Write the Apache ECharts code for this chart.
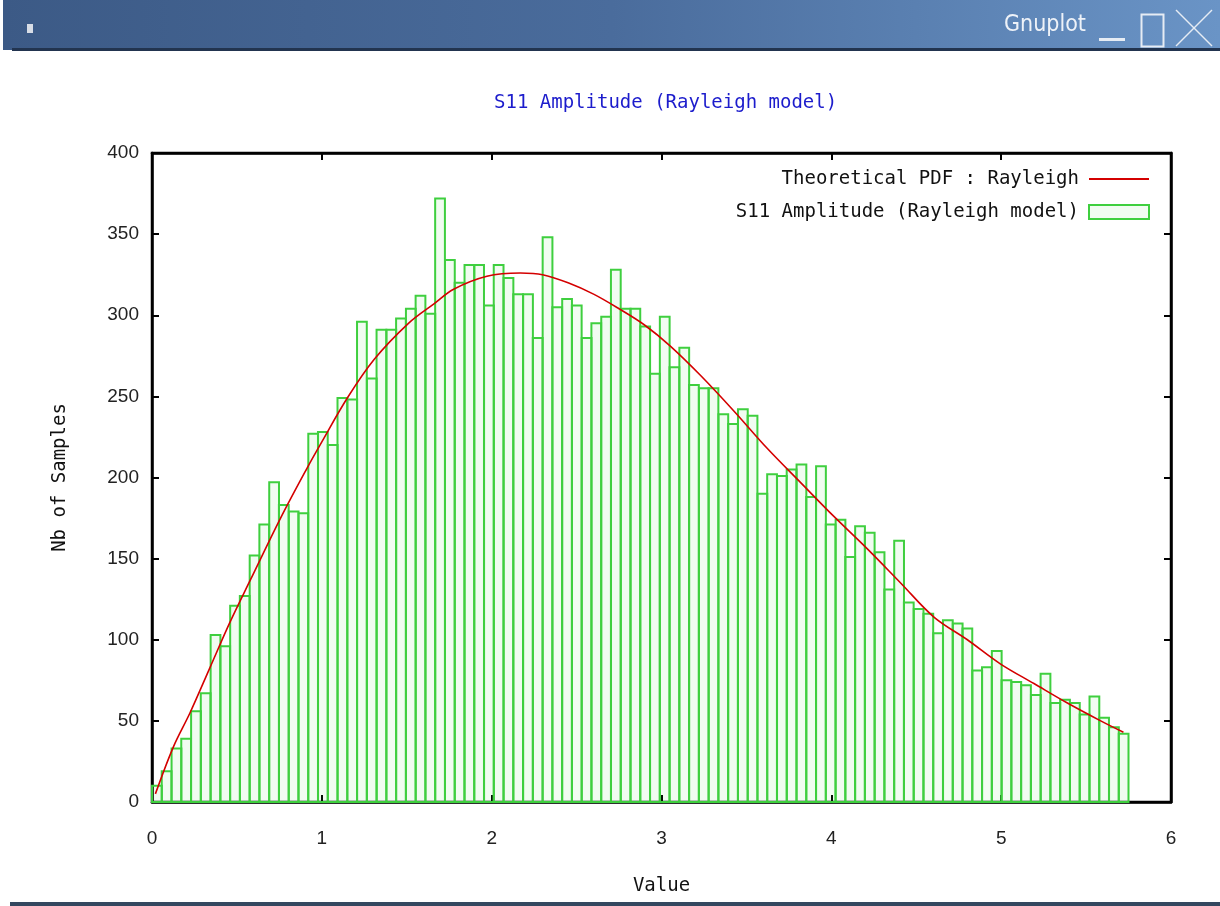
<!DOCTYPE html>
<html>
<head>
<meta charset="utf-8">
<script src="https://cdn.jsdelivr.net/npm/echarts@6/dist/echarts.min.js"></script>
<style>
  html, body { margin: 0; padding: 0; background: #ffffff; }
  #chart { width: 1220px; height: 906px; }
</style>
</head>
<body>
<div id="chart"></div>
<script>
// ---------------- data ----------------
const chartTitle = 'S11 Amplitude (Rayleigh model)';
const windowTitle = 'Gnuplot';
const xName = 'Value';
const yName = 'Nb of Samples';
const pdfName = 'Theoretical PDF : Rayleigh';
const histName = 'S11 Amplitude (Rayleigh model)';

const xTicks = [0, 1, 2, 3, 4, 5, 6];
const yTicks = [0, 50, 100, 150, 200, 250, 300, 350, 400];

const binWidth = 0.0575;
const binCenters = [
  0.029, 0.086, 0.144, 0.201, 0.259, 0.316, 0.374, 0.431, 0.489, 0.546,
  0.604, 0.661, 0.719, 0.776, 0.834, 0.891, 0.949, 1.006, 1.064, 1.121,
  1.179, 1.236, 1.294, 1.351, 1.409, 1.466, 1.524, 1.581, 1.639, 1.696,
  1.754, 1.811, 1.869, 1.926, 1.984, 2.041, 2.099, 2.156, 2.214, 2.271,
  2.329, 2.386, 2.444, 2.501, 2.559, 2.616, 2.674, 2.731, 2.789, 2.846,
  2.904, 2.961, 3.019, 3.076, 3.134, 3.191, 3.249, 3.306, 3.364, 3.421,
  3.479, 3.536, 3.594, 3.651, 3.709, 3.766, 3.824, 3.881, 3.939, 3.996,
  4.054, 4.111, 4.169, 4.226, 4.284, 4.341, 4.399, 4.456, 4.514, 4.571,
  4.629, 4.686, 4.744, 4.801, 4.859, 4.916, 4.974, 5.031, 5.089, 5.146,
  5.204, 5.261, 5.319, 5.376, 5.434, 5.491, 5.549, 5.606, 5.664, 5.721
];
const binCounts = [
  10, 19, 33, 39, 56, 67, 103, 96, 121, 127,
  152, 171, 197, 183, 179, 178, 227, 228, 220, 249,
  248, 296, 261, 291, 291, 298, 304, 312, 301, 372,
  334, 320, 331, 331, 306, 331, 323, 313, 313, 286,
  348, 305, 310, 306, 286, 295, 299, 328, 304, 304,
  293, 264, 299, 268, 280, 257, 255, 255, 239, 233,
  242, 238, 190, 202, 201, 205, 208, 188, 207, 171,
  174, 151, 170, 166, 154, 131, 161, 123, 119, 116,
  104, 112, 110, 107, 81, 83, 93, 75, 74, 72,
  66, 79, 61, 63, 61, 54, 65, 52, 46, 42
];

const pdfX = [0.02, 0.126, 0.224, 0.342, 0.46, 0.58, 0.757, 0.914, 1.0, 1.15,
  1.31, 1.51, 1.66, 1.776, 1.972, 2.169, 2.3, 2.45, 2.6, 2.75,
  2.9, 3.052, 3.229, 3.426, 3.622, 3.818, 4.015, 4.212, 4.408, 4.604,
  4.801, 4.997, 5.193, 5.39, 5.586, 5.72];
const pdfY = [5, 34, 55, 83, 111, 137, 175, 206, 222, 249,
  273, 295, 307, 316, 324, 326, 325, 320, 313, 304,
  294, 281, 263, 241, 218, 197, 176, 156, 135, 114,
  100, 85, 73, 61, 50, 43];

// ---------------- chart ----------------
const chart = echarts.init(document.getElementById('chart'), null, { renderer: 'canvas' });

const histData = binCenters.map((c, i) => [c, binCounts[i]]);
const pdfData = pdfX.map((x, i) => [x, pdfY[i]]);

const monoFont = '"DejaVu Sans Mono", "Liberation Mono", monospace';
const tickFont = '"Liberation Sans", Arial, sans-serif';
const GREEN = '#3fcf3f';
const GREEN_FILL = 'rgba(60, 210, 60, 0.07)';
const RED = '#d40000';

const axisCommon = {
  type: 'value',
  splitLine: { show: false },
  axisLine: { show: true, onZero: false, lineStyle: { color: '#000', width: 2.5 } },
  axisTick: { show: true, inside: true, length: 7, lineStyle: { color: '#000', width: 2 } }
};

const option = {
  backgroundColor: '#ffffff',
  animation: false,
  title: {
    text: chartTitle,
    left: 489,
    top: 89,
    textStyle: { fontFamily: monoFont, fontSize: 19, fontWeight: 'normal', color: '#1c1ccc' }
  },
  legend: {
    orient: 'vertical',
    right: 65,
    top: 164,
    align: 'right',
    itemWidth: 60,
    itemHeight: 14,
    itemGap: 13,
    textStyle: { fontFamily: monoFont, fontSize: 19, color: '#111', padding: [0, 5, 0, 0], lineHeight: 20 },
    data: [
      { name: pdfName, icon: 'path://M0,0 L60,0 L60,2 L0,2 Z', itemStyle: { color: RED } },
      { name: histName, icon: 'rect', itemStyle: { color: GREEN_FILL, borderColor: GREEN, borderWidth: 2 } }
    ]
  },
  grid: {
    left: 152, right: 49, top: 153, bottom: 104,
    show: true, borderColor: '#000', borderWidth: 2.5, backgroundColor: 'transparent'
  },
  xAxis: [
    Object.assign({}, axisCommon, {
      min: xTicks[0], max: xTicks[xTicks.length - 1], interval: 1,
      position: 'bottom',
      name: xName, nameLocation: 'middle', nameGap: 75,
      nameTextStyle: { fontFamily: monoFont, fontSize: 19, color: '#111' },
      axisLabel: { margin: 27, fontFamily: tickFont, fontSize: 19, color: '#222' }
    }),
    Object.assign({}, axisCommon, {
      min: xTicks[0], max: xTicks[xTicks.length - 1], interval: 1,
      position: 'top', axisLabel: { show: false }
    })
  ],
  yAxis: [
    Object.assign({}, axisCommon, {
      min: yTicks[0], max: yTicks[yTicks.length - 1], interval: 50,
      position: 'left',
      name: yName, nameLocation: 'middle', nameGap: 82, nameRotate: 90,
      nameTextStyle: { fontFamily: monoFont, fontSize: 19, color: '#111' },
      axisLabel: { margin: 13, fontFamily: tickFont, fontSize: 19, color: '#222' }
    }),
    Object.assign({}, axisCommon, {
      min: yTicks[0], max: yTicks[yTicks.length - 1], interval: 50,
      position: 'right', axisLabel: { show: false }
    })
  ],
  series: [
    {
      name: histName,
      type: 'custom',
      xAxisIndex: 0, yAxisIndex: 0,
      data: histData,
      encode: { x: 0, y: 1 },
      itemStyle: { color: GREEN_FILL, borderColor: GREEN, borderWidth: 2 },
      renderItem: function (params, api) {
        const c = api.value(0), v = api.value(1);
        const p0 = api.coord([c - binWidth / 2, v]);
        const p1 = api.coord([c + binWidth / 2, 0]);
        return {
          type: 'rect',
          shape: { x: p0[0], y: p0[1], width: p1[0] - p0[0], height: p1[1] - p0[1] },
          style: { fill: GREEN_FILL, stroke: GREEN, lineWidth: 2 }
        };
      },
      z: 2
    },
    {
      name: pdfName,
      type: 'line',
      xAxisIndex: 0, yAxisIndex: 0,
      data: pdfData,
      smooth: 0.35,
      showSymbol: false,
      symbol: 'none',
      lineStyle: { color: RED, width: 1.6 },
      itemStyle: { color: RED },
      z: 5
    }
  ],
  graphic: [
    {
      type: 'rect', left: 3, top: 0, z: 100,
      shape: { width: 1217, height: 50 },
      style: {
        fill: new echarts.graphic.LinearGradient(0, 0, 1, 0, [
          { offset: 0, color: '#3c5a86' },
          { offset: 0.5, color: '#4a6c9c' },
          { offset: 1, color: '#6a94c6' }
        ])
      }
    },
    { type: 'rect', left: 12, top: 48, z: 101, shape: { width: 1208, height: 3 }, style: { fill: '#22344f' } },
    { type: 'rect', left: 27, top: 24, z: 101, shape: { width: 6, height: 9 }, style: { fill: '#d8dde6' } },
    {
      type: 'text', left: 1004, top: 14, z: 101,
      style: { text: windowTitle, fill: '#eef2f8', font: '23px "Liberation Sans Narrow", "DejaVu Sans Condensed", "Liberation Sans", sans-serif' }
    },
    { type: 'rect', left: 1099, top: 38, z: 101, shape: { width: 26, height: 3 }, style: { fill: '#e6ecf4' } },
    { type: 'rect', left: 1139, top: 12, z: 101, shape: { width: 22, height: 32 }, style: { fill: 'none', stroke: '#e6ecf4', lineWidth: 2 } },
    { type: 'line', z: 101, shape: { x1: 1176, y1: 10, x2: 1212, y2: 46 }, style: { stroke: '#e6ecf4', lineWidth: 1.5 } },
    { type: 'line', z: 101, shape: { x1: 1212, y1: 10, x2: 1176, y2: 46 }, style: { stroke: '#e6ecf4', lineWidth: 1.5 } },
    { type: 'rect', left: 10, top: 902, z: 101, shape: { width: 1210, height: 4 }, style: { fill: '#33475f' } }
  ]
};

chart.setOption(option);
</script>
</body>
</html>
